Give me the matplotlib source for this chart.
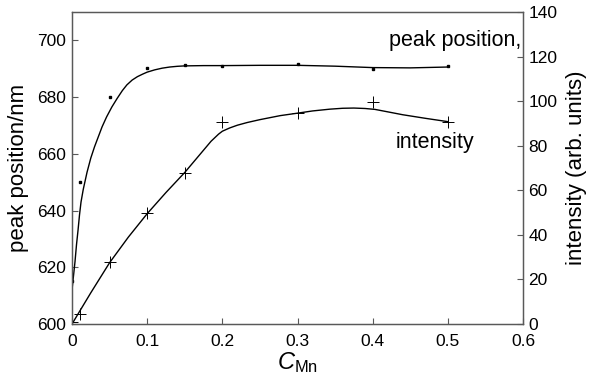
import matplotlib
matplotlib.use('Agg')
matplotlib.rc('font', **{'family': 'sans-serif', 'sans-serif': ['Liberation Sans']})
matplotlib.rc('mathtext', fontset='custom', rm='Liberation Sans', it='Liberation Sans:italic')
import matplotlib.pyplot as plt

# Measured points.
c_mn_peak = [0.0, 0.01, 0.05, 0.1, 0.15, 0.2, 0.3, 0.4, 0.5]
peak_nm = [615.0, 650.0, 680.0, 690.2, 691.2, 691.0, 691.8, 689.8, 690.8]

c_mn_int = [0.0, 0.01, 0.05, 0.1, 0.15, 0.2, 0.3, 0.4, 0.5]
intensity = [1.0, 4.3, 27.8, 49.8, 67.8, 90.6, 94.7, 99.6, 90.6]

# Guide-to-the-eye curves.
c_mn_peak_fit = [0.0, 0.002, 0.004, 0.006, 0.008, 0.01, 0.012, 0.015, 0.02, 0.025,
                 0.03, 0.035, 0.04, 0.046, 0.053, 0.06, 0.067, 0.073, 0.08, 0.087,
                 0.094, 0.1, 0.11, 0.12, 0.13, 0.14, 0.15, 0.175, 0.2, 0.25, 0.3,
                 0.35, 0.4, 0.45, 0.5]
peak_nm_fit = [612.0, 617.0, 622.0, 628.0, 633.0, 638.5, 643.0, 647.5, 653.5, 658.5,
               662.5, 666.0, 669.5, 673.0, 676.5, 679.5, 682.3, 684.3, 686.0, 687.2,
               688.1, 688.8, 689.6, 690.2, 690.6, 690.85, 691.0, 691.1, 691.1, 691.2, 691.2,
               690.9, 690.4, 690.3, 690.6]

c_mn_int_fit = [0.0, 0.025, 0.05, 0.075, 0.1, 0.125, 0.15, 0.165, 0.175, 0.185, 0.195,
                0.2, 0.21, 0.22, 0.233, 0.25, 0.277, 0.302, 0.32, 0.343, 0.36, 0.375,
                0.39, 0.403, 0.42, 0.44, 0.47, 0.5]
intensity_fit = [0.0, 14.0, 27.5, 39.0, 49.5, 59.0, 68.0, 74.0, 78.0, 82.0, 85.2,
                 86.5, 88.0, 89.2, 90.4, 91.7, 93.5, 94.7, 95.6, 96.4, 96.8, 96.9,
                 96.7, 96.3, 95.2, 93.9, 92.3, 90.8]

x_ticks = [0, 0.1, 0.2, 0.3, 0.4, 0.5, 0.6]
x_tick_labels = ['0', '0.1', '0.2', '0.3', '0.4', '0.5', '0.6']
peak_ticks = [600, 620, 640, 660, 680, 700]
int_ticks = [0, 20, 40, 60, 80, 100, 120, 140]

FRAME = '0.35'
TICK_SIZE = 12.5


def _style_axis(ax):
    for spine in ax.spines.values():
        spine.set_color(FRAME)
        spine.set_linewidth(0.9)
    ax.tick_params(direction='in', length=4, width=0.8, color=FRAME,
                   labelsize=TICK_SIZE, pad=4)


fig = plt.figure(figsize=(5.91, 3.80), dpi=100)
fig.subplots_adjust(left=72 / 591, right=523 / 591, bottom=1 - 324 / 380, top=1 - 12 / 380)

# Peak position (left axis).
ax = fig.add_subplot(111)
ax.plot(c_mn_peak_fit, peak_nm_fit, color='black', linewidth=1.0)
ax.plot(c_mn_peak, peak_nm, linestyle='none', marker='s', markersize=1.8, color='black')
ax.set_xlim(0, 0.6)
ax.set_ylim(600, 710)
ax.set_xticks(x_ticks)
ax.set_xticklabels(x_tick_labels)
ax.set_yticks(peak_ticks)
ax.set_ylabel('peak position/nm', fontsize=16, labelpad=6)
ax.set_xlabel(r'$\mathit{C}_{\mathrm{Mn}}$', fontsize=17, labelpad=1)
_style_axis(ax)
ax.tick_params(axis='x', pad=7)

ax.text(0.422, 700, 'peak position,', fontsize=15.5, va='center', ha='left')
ax.text(0.43, 664, 'intensity', fontsize=15.5, va='center', ha='left')

# Intensity (right axis).
ax2 = ax.twinx()
ax2.plot(c_mn_int_fit, intensity_fit, color='black', linewidth=1.0)
ax2.plot(c_mn_int, intensity, linestyle='none', marker='+', markersize=9,
         markeredgewidth=0.7, color='black')
ax2.set_ylim(0, 140)
ax2.set_yticks(int_ticks)
ax2.set_ylabel('intensity (arb. units)', fontsize=16, labelpad=6)
_style_axis(ax2)

plt.savefig('out.png', dpi=100)
